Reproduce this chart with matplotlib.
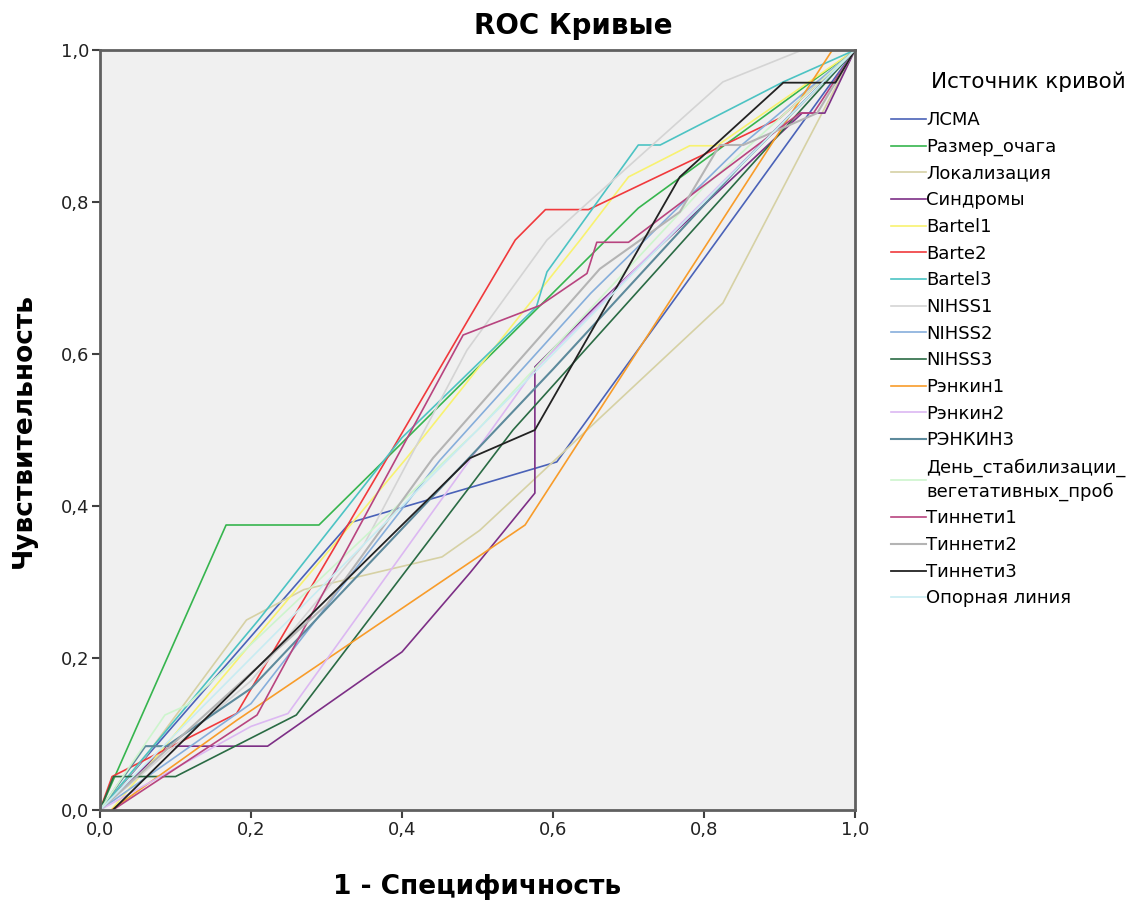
import matplotlib
matplotlib.use("Agg")
import matplotlib.pyplot as plt
from matplotlib.ticker import FuncFormatter

plt.rcParams['font.family'] = ['DejaVu Sans']

# кривые ROC: (1 - специфичность, чувствительность)
lsma_x = [0, 0.331, 0.503, 0.605, 1]
lsma_y = [0, 0.378, 0.428, 0.458, 1]

razmer_x = [0, 0.167, 0.29, 0.4, 0.713, 1]
razmer_y = [0, 0.375, 0.375, 0.483, 0.792, 1]

lokal_x = [0, 0.06, 0.194, 0.27, 0.453, 0.503, 0.825, 1]
lokal_y = [0, 0.07, 0.25, 0.29, 0.333, 0.368, 0.667, 1]

sindr_x = [0, 0.088, 0.222, 0.4, 0.49, 0.576, 0.576, 0.662, 0.93, 0.96, 1]
sindr_y = [0, 0.084, 0.084, 0.208, 0.312, 0.417, 0.583, 0.668, 0.917, 0.917, 1]

bartel1_x = [0.015, 0.406, 0.636, 0.7, 0.781, 0.817, 1]
bartel1_y = [0, 0.463, 0.75, 0.833, 0.874, 0.874, 1]

barte2_x = [0, 0.016, 0.181, 0.397, 0.49, 0.55, 0.59, 0.647, 0.9, 1]
barte2_y = [0, 0.044, 0.127, 0.491, 0.649, 0.75, 0.79, 0.79, 0.91, 1]

bartel3_x = [0, 0.21, 0.4, 0.578, 0.592, 0.713, 0.742, 0.905, 1]
bartel3_y = [0, 0.25, 0.49, 0.662, 0.708, 0.875, 0.875, 0.958, 1]

nihss1_x = [0, 0.2, 0.35, 0.486, 0.592, 0.636, 0.825, 0.93, 1]
nihss1_y = [0, 0.17, 0.35, 0.605, 0.75, 0.79, 0.958, 1, 1]

nihss2_x = [0, 0.2, 0.45, 0.65, 0.85, 1]
nihss2_y = [0, 0.14, 0.46, 0.68, 0.875, 1]

nihss3_x = [0, 0.018, 0.1, 0.26, 0.547, 1]
nihss3_y = [0, 0.044, 0.044, 0.125, 0.5, 1]

rankin1_x = [0.015, 0.181, 0.563, 0.97, 1]
rankin1_y = [0, 0.118, 0.375, 1, 1]

rankin2_x = [0, 0.2, 0.249, 0.576, 1]
rankin2_y = [0, 0.11, 0.127, 0.58, 1]

rankin3_x = [0, 0.06, 0.088, 0.2, 0.6, 0.85, 1]
rankin3_y = [0, 0.084, 0.084, 0.16, 0.58, 0.85, 1]

den_x = [0, 0.086, 0.115, 0.5, 0.8, 1]
den_y = [0, 0.125, 0.138, 0.5, 0.82, 1]

tinn1_x = [0.017, 0.208, 0.481, 0.583, 0.645, 0.658, 0.7, 0.927, 0.945, 1]
tinn1_y = [0, 0.125, 0.625, 0.664, 0.706, 0.747, 0.747, 0.917, 0.917, 1]

tinn2_x = [0, 0.3, 0.441, 0.662, 0.768, 0.821, 0.852, 0.95, 1]
tinn2_y = [0, 0.27, 0.463, 0.712, 0.787, 0.875, 0.875, 0.917, 1]

tinn3_x = [0.017, 0.49, 0.576, 0.768, 0.905, 0.974, 1]
tinn3_y = [0, 0.463, 0.5, 0.833, 0.957, 0.957, 1]

ref_x = [0, 1]
ref_y = [0, 1]

series = [
    ("ЛСМА", lsma_x, lsma_y, "#4a62b8", 1.2),
    ("Размер_очага", razmer_x, razmer_y, "#36b54e", 1.2),
    ("Локализация", lokal_x, lokal_y, "#d6d1a4", 1.2),
    ("Синдромы", sindr_x, sindr_y, "#7d2f86", 1.2),
    ("Bartel1", bartel1_x, bartel1_y, "#f8f270", 1.2),
    ("Barte2", barte2_x, barte2_y, "#f0393c", 1.2),
    ("Bartel3", bartel3_x, bartel3_y, "#4cc3c3", 1.2),
    ("NIHSS1", nihss1_x, nihss1_y, "#d4d4d4", 1.2),
    ("NIHSS2", nihss2_x, nihss2_y, "#86aedb", 1.2),
    ("NIHSS3", nihss3_x, nihss3_y, "#2a6b44", 1.2),
    ("Рэнкин1", rankin1_x, rankin1_y, "#f89c2a", 1.2),
    ("Рэнкин2", rankin2_x, rankin2_y, "#dcb8f2", 1.2),
    ("РЭНКИН3", rankin3_x, rankin3_y, "#5d8a9c", 1.5),
    ("День_стабилизации_\nвегетативных_проб", den_x, den_y, "#cdf5cd", 1.2),
    ("Тиннети1", tinn1_x, tinn1_y, "#b8447f", 1.2),
    ("Тиннети2", tinn2_x, tinn2_y, "#b4b4b4", 1.5),
    ("Тиннети3", tinn3_x, tinn3_y, "#222222", 1.3),
    ("Опорная линия", ref_x, ref_y, "#c8ecf2", 1.2),
]

fig = plt.figure(figsize=(11.43, 9), dpi=100)
ax = fig.add_axes([100 / 1143, 1 - 810 / 900, 755 / 1143, 760 / 900])
ax.set_facecolor("#f0f0f0")

handles = []
for name, xs, ys, col, lw in series:
    h, = ax.plot(xs, ys, color=col, lw=lw, label=name)
    handles.append(h)

ax.set_xlim(0, 1)
ax.set_ylim(0, 1)
ticks = [0, 0.2, 0.4, 0.6, 0.8, 1.0]
ax.set_xticks(ticks)
ax.set_yticks(ticks)
fmt = FuncFormatter(lambda v, p: f"{v:.1f}".replace(".", ","))
ax.xaxis.set_major_formatter(fmt)
ax.yaxis.set_major_formatter(fmt)
ax.tick_params(labelsize=13, length=6, width=1.5, color="#404040",
               labelcolor="#222222", pad=2)
for s in ax.spines.values():
    s.set_color("#606060")
    s.set_linewidth(2)

ax.set_xlabel("1 - Специфичность", fontsize=19, fontweight="bold", labelpad=25)
ax.set_ylabel("Чувствительность", fontsize=19, fontweight="bold", labelpad=17)
fig.text(573 / 1143, 1 - 26 / 900, "ROC Кривые", fontsize=20, fontweight="bold",
         ha="center", va="center")

leg = fig.legend(handles=handles, loc="upper left",
                 bbox_to_anchor=(884 / 1143, 1 - 64 / 900),
                 frameon=False, fontsize=13, title="Источник кривой",
                 title_fontsize=15.5, handlelength=1.9, handletextpad=0.05,
                 labelspacing=0.48, alignment="right", borderaxespad=0)
leg._legend_box.sep = 14
leg.get_texts()[13].set_linespacing(1.4)

fig.savefig("out.png", dpi=100)
